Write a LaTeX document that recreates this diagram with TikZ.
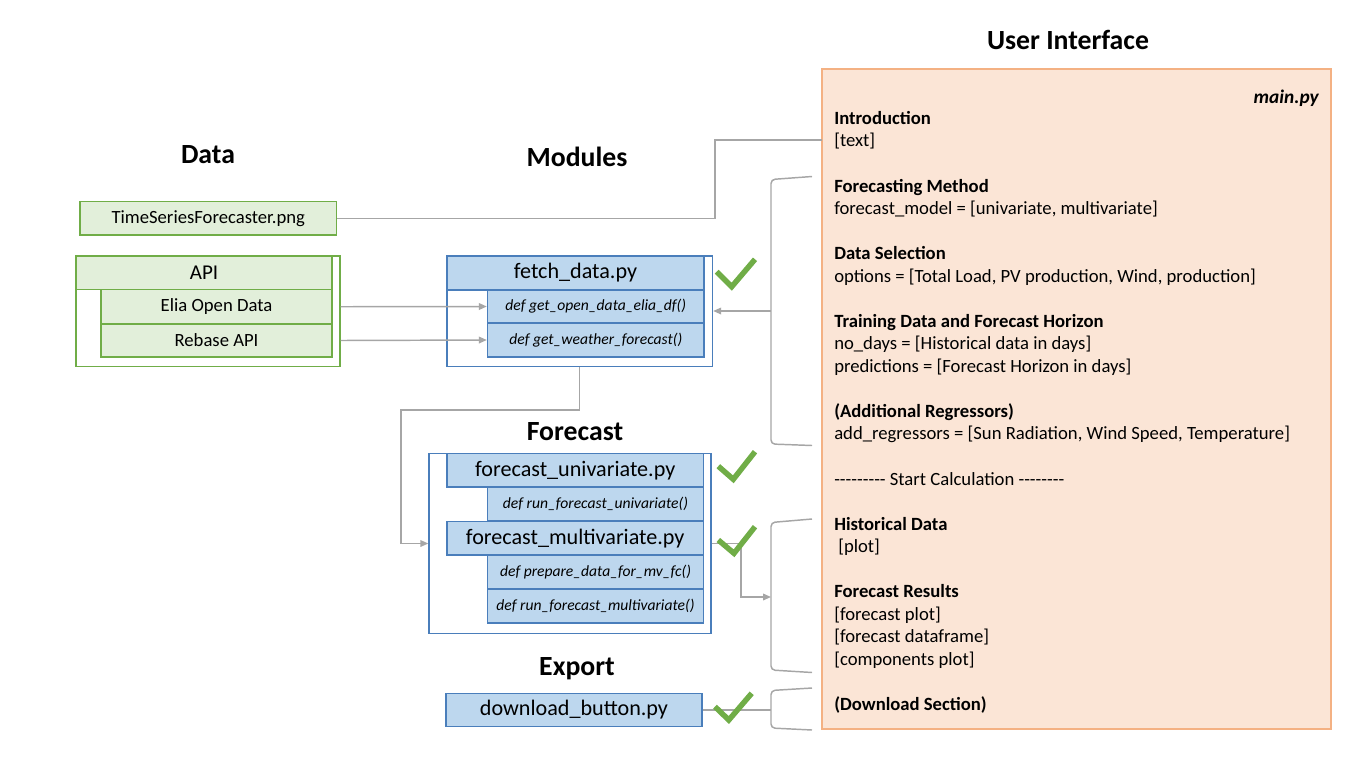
\documentclass[tikz,border=0pt]{standalone}
\usepackage{fontspec}
\setmainfont{Carlito}
\usetikzlibrary{arrows.meta}
\definecolor{gfill}{HTML}{E2EFDA}
\definecolor{gline}{HTML}{70AD47}
\definecolor{bfill}{HTML}{BDD7EE}
\definecolor{bline}{HTML}{4A7EBB}
\definecolor{ofill}{HTML}{FBE5D6}
\definecolor{oline}{HTML}{F4B183}
\definecolor{cgray}{HTML}{A6A6A6}
\definecolor{ckgreen}{HTML}{70AD47}
\tikzset{
  sz/.style 2 args={minimum width=#1*0.75pt, minimum height=#2*0.75pt},
  gbox/.style={draw=gline, fill=gfill, line width=1pt, inner sep=0pt, rectangle},
  gout/.style={draw=gline, fill=white, line width=1pt, inner sep=0pt, rectangle},
  bbox/.style={draw=bline, fill=bfill, line width=1pt, inner sep=0pt, rectangle},
  bout/.style={draw=bline, fill=white, line width=1pt, inner sep=0pt, rectangle},
  title/.style={font=\fontsize{20.8}{24}\selectfont\bfseries},
  boxtxt/.style={font=\fontsize{14}{17}\selectfont},
  headtxt/.style={font=\fontsize{16.6}{20}\selectfont},
  deftxt/.style={font=\fontsize{11.7}{14}\selectfont\itshape},
  uitxt/.style={font=\fontsize{14}{17}\selectfont, inner sep=0pt},
  conn/.style={draw=cgray, line width=1.1pt},
  arr/.style={conn, -{Triangle[length=6pt,width=5pt]}},
  brk/.style={conn, rounded corners=3pt},
  check/.style={draw=ckgreen, line width=4.1pt, line cap=butt, line join=miter},
}
\begin{document}
\begin{tikzpicture}[x=0.75pt,y=-0.75pt]
\useasboundingbox (0,0) rectangle (1371,782);

% titles
\node[title] (tUI) at (1068,40) {User Interface};
\node[title] (tData) at (208,155) {Data};
\node[title] (tMod) at (577,157) {Modules};
\node[title] (tFc) at (575,432) {Forecast};
\node[title] (tExp) at (577,669) {Export};

% user interface box
\node[draw=oline, fill=ofill, line width=1pt, inner sep=0pt, sz={509}{660}] (ui) at (1076.5,399) {};
\node[uitxt, anchor=base east, font=\fontsize{14.5}{17}\selectfont\bfseries\itshape] (mainpy) at (1319,103) {main.py};
\foreach \yy/\tt [count=\i] in {
  118/{\textbf{Introduction}},
  140/{[text]},
  186/{\textbf{Forecasting Method}},
  208/{forecast\_model = [univariate, multivariate]},
  253/{\textbf{Data Selection}},
  276/{options = [Total Load, PV production, Wind, production]},
  321/{\textbf{Training Data and Forecast Horizon}},
  343/{no\_days = [Historical data in days]},
  366/{predictions = [Forecast Horizon in days]},
  411/{\textbf{(Additional Regressors)}},
  433/{add\_regressors = [Sun Radiation, Wind Speed, Temperature]},
  479/{-{}-{}-{}-{}-{}-{}-{}-{}- Start Calculation -{}-{}-{}-{}-{}-{}-{}-},
  524/{\textbf{Historical Data}},
  591/{\textbf{Forecast Results}},
  614/{[forecast plot]},
  636/{[forecast dataframe]},
  659/{[components plot]},
  704/{\textbf{(Download Section)}}}
{
  \node[uitxt, anchor=base west] (uiline\i) at (834,\yy+6) {\tt};
}
\node[uitxt, anchor=base west] (uiplot) at (838,552) {[plot]};

% data boxes
\node[gbox, boxtxt, sz={256.5}{33.5}] (tsf) at (208.25,218.25) {TimeSeriesForecaster.png};
\node[gout, sz={264}{110.5}] (api) at (208,311.25) {};
\node[gbox, sz={256}{33.5}, font=\fontsize{15.8}{19}\selectfont] (apih) at (204,272.75) {API};
\node[gbox, boxtxt, sz={231}{34.5}] (elia) at (216.5,306.75) {Elia Open Data};
\node[gbox, boxtxt, sz={231}{33}] (rebase) at (216.5,340.5) {Rebase API};

% fetch_data
\node[bout, sz={265.5}{110.5}] (fetch) at (579.75,311.25) {};
\node[bbox, headtxt, sz={257}{34}] (fetchh) at (575.5,273) {fetch\_data.py};
\node[bbox, deftxt, sz={216.5}{33}] (fdef1) at (595.75,306.5) {def get\_open\_data\_elia\_df()};
\node[bbox, deftxt, sz={216.5}{34}] (fdef2) at (595.75,340) {def get\_weather\_forecast()};

% forecast
\node[bout, sz={282}{180}] (fcbox) at (570,543.5) {};
\node[bbox, headtxt, sz={256.5}{33.5}] (fu) at (575.25,470.25) {forecast\_univariate.py};
\node[bbox, deftxt, sz={216}{34}] (fudef) at (595.5,504) {def run\_forecast\_univariate()};
\node[bbox, headtxt, sz={256.5}{33.5}] (fm) at (575.25,538.25) {forecast\_multivariate.py};
\node[bbox, deftxt, sz={216}{34}] (fmdef1) at (595.5,572) {def prepare\_data\_for\_mv\_fc()};
\node[bbox, deftxt, sz={216}{34}] (fmdef2) at (595.5,606) {def run\_forecast\_multivariate()};

% export
\node[bbox, headtxt, sz={256}{33}] (dl) at (574,710) {download\_button.py};

% coordinates
\coordinate (bend1) at (715,180);
\coordinate (uiIntro) at (822,140);
\coordinate (b1t) at (812,176.5);
\coordinate (b1b) at (812,445.5);
\coordinate (b1m) at (771,311);
\coordinate (b2t) at (812,519);
\coordinate (b2b) at (812,672.5);
\coordinate (b2m) at (771,597);
\coordinate (b3t) at (812,688);
\coordinate (b3b) at (812,730);
\coordinate (b3m) at (771,710);
\coordinate (bendA) at (401,410);
\coordinate (bendB) at (741,570);

% connectors
\draw[conn] (tsf.east) -| (bend1) |- (uiIntro);
\draw[arr] (api.east |- elia) -- (fdef1.west);
\draw[arr] (api.east |- rebase) -- (fdef2.west);
\draw[brk] (b1t) -- (771,179.5) -- (771,444) -- (b1b);
\draw[arr] (b1m) -- (fetch.east |- b1m);
\draw[arr] (fetch.south) |- (bendA) |- (fcbox.west);
\draw[brk] (b2t) -- (771,522.5) -- (771,670) -- (b2b);
\draw[arr] (fcbox.east) -| (bendB) |- (b2m);
\draw[brk] (b3t) -- (771,690.5) -- (771,728) -- (b3b);
\draw[conn] (dl.east) -- (b3m);

% check marks
\draw[check] (716.7,271.7) -- (731.7,286.7) -- (755,259.3);
\draw[check] (718.3,466.2) -- (733.3,479.3) -- (755,451.7);
\draw[check] (718.3,540) -- (734,553.3) -- (755,526.7);
\draw[check] (715,706.7) -- (728.8,720) -- (751.7,693.3);
\end{tikzpicture}
\end{document}
